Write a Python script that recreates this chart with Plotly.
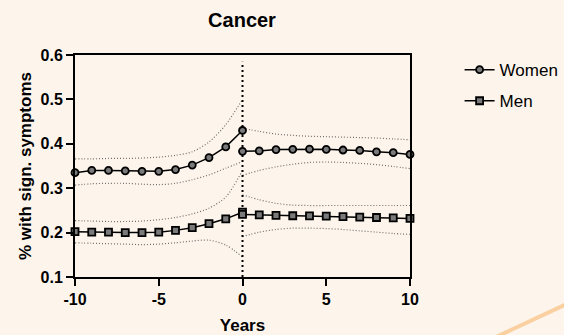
import plotly.graph_objects as go

years_pre = [-10, -9, -8, -7, -6, -5, -4, -3, -2, -1, 0]
years_post = [0, 1, 2, 3, 4, 5, 6, 7, 8, 9, 10]

women_pre = [0.335, 0.340, 0.340, 0.339, 0.338, 0.338, 0.342, 0.352, 0.369, 0.393, 0.430]
women_post = [0.383, 0.384, 0.387, 0.3875, 0.388, 0.3875, 0.386, 0.385, 0.382, 0.380, 0.376]
women_pre_hi = [0.366, 0.366, 0.367, 0.367, 0.368, 0.370, 0.374, 0.382, 0.404, 0.443, 0.500]
women_pre_lo = [0.307, 0.310, 0.311, 0.311, 0.309, 0.308, 0.311, 0.319, 0.330, 0.345, 0.360]
women_post_hi = [0.435, 0.428, 0.422, 0.419, 0.417, 0.416, 0.415, 0.414, 0.413, 0.411, 0.409]
women_post_lo = [0.329, 0.340, 0.348, 0.354, 0.358, 0.359, 0.358, 0.356, 0.353, 0.349, 0.344]

men_pre = [0.202, 0.201, 0.201, 0.200, 0.200, 0.201, 0.205, 0.211, 0.220, 0.231, 0.246]
men_post = [0.241, 0.240, 0.239, 0.238, 0.2375, 0.237, 0.236, 0.235, 0.234, 0.233, 0.232]
men_pre_hi = [0.227, 0.226, 0.225, 0.225, 0.226, 0.229, 0.234, 0.242, 0.255, 0.280, 0.340]
men_pre_lo = [0.177, 0.176, 0.175, 0.174, 0.173, 0.174, 0.177, 0.181, 0.183, 0.172, 0.145]
men_post_hi = [0.285, 0.274, 0.266, 0.262, 0.261, 0.261, 0.261, 0.261, 0.261, 0.261, 0.261]
men_post_lo = [0.191, 0.201, 0.207, 0.210, 0.210, 0.209, 0.207, 0.204, 0.201, 0.198, 0.196]

x_ticks = [-10, -5, 0, 5, 10]
y_ticks = [0.1, 0.2, 0.3, 0.4, 0.5, 0.6]
event_line = [0.1, 0.585]

BG = "#FDF5EC"
FONT = "Liberation Sans, Arial, sans-serif"

fig = go.Figure()

ci_style = dict(color="#6f6f6f", width=1.2, dash="1px,2px", shape="spline", smoothing=0.8)
for xs, ys in [(years_pre, women_pre_hi), (years_pre, women_pre_lo),
               (years_post, women_post_hi), (years_post, women_post_lo),
               (years_pre, men_pre_hi), (years_pre, men_pre_lo),
               (years_post, men_post_hi), (years_post, men_post_lo)]:
    fig.add_trace(go.Scatter(x=xs, y=ys, mode="lines", line=ci_style,
                             showlegend=False, hoverinfo="skip"))

# vertical event line at year 0
fig.add_trace(go.Scatter(x=[0, 0], y=event_line, mode="lines",
                         line=dict(color="black", width=2, dash="2px,3px"),
                         showlegend=False, hoverinfo="skip"))

mk_line = dict(color="black", width=1.8)
for xs, ys, name, sym, show in [(years_pre, women_pre, "Women", "circle", True),
                                (years_post, women_post, "Women", "circle", False),
                                (years_pre, men_pre, "Men", "square", True),
                                (years_post, men_post, "Men", "square", False)]:
    fig.add_trace(go.Scatter(x=xs, y=ys, mode="lines+markers", name=name,
                             legendgroup=name, showlegend=show,
                             line=dict(color="black", width=1.5),
                             marker=dict(symbol=sym, size=7, color="#7a7a7a", line=mk_line),
                             cliponaxis=False))

fig.update_layout(
    width=564, height=335,
    margin=dict(l=75, r=154, t=55, b=58, autoexpand=False),
    paper_bgcolor=BG, plot_bgcolor=BG,
    font=dict(family=FONT, color="black"),
    title=dict(text="<b>Cancer</b>", x=242 / 564, xanchor="center", y=1 - 20 / 335, yanchor="middle",
               font=dict(size=20, family=FONT)),
    showlegend=True,
    legend=dict(x=1.148, xanchor="left", y=1.013, yanchor="top",
                font=dict(size=17, family=FONT), bgcolor="rgba(0,0,0,0)",
                tracegroupgap=6),
    shapes=[dict(type="line", xref="paper", yref="paper",
                 x0=1.257, y0=-0.27, x1=1.47, y1=-0.12,
                 line=dict(color="#FAD0A0", width=4), layer="below")],
)
fig.update_xaxes(range=[-10, 10], tickvals=x_ticks, ticktext=[str(v) for v in x_ticks],
                 showgrid=False, zeroline=False, showline=True, linecolor="black", linewidth=2,
                 mirror=True, ticks="outside", ticklen=7, tickwidth=2, tickcolor="black",
                 automargin=False,
                 tickfont=dict(size=16, family=FONT, weight="bold"),
                 title=dict(text="<b>Years</b>", font=dict(size=17, family=FONT), standoff=12))
fig.update_yaxes(range=[0.1, 0.6], tickvals=y_ticks, ticktext=[f"{v:.1f}" for v in y_ticks],
                 showgrid=False, zeroline=False, showline=True, linecolor="black", linewidth=2,
                 mirror=True, ticks="outside", ticklen=7, tickwidth=2, tickcolor="black",
                 automargin=False,
                 tickfont=dict(size=16, family=FONT, weight="bold"),
                 title=dict(text="<b>% with sign. symptoms</b>", font=dict(size=17, family=FONT), standoff=5))

fig.write_html("out.html", config={"displayModeBar": False},
               post_script="document.body.style.margin='0';document.body.style.background='%s';" % BG)
